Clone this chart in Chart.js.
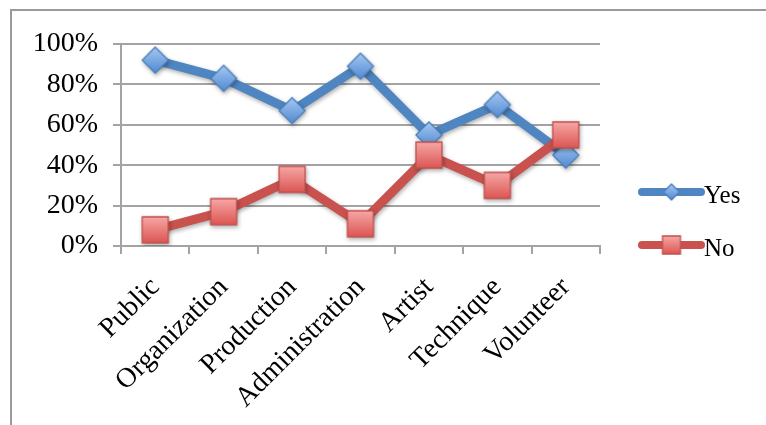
<!DOCTYPE html>
<html>
<head>
<meta charset="utf-8">
<script src="https://cdn.jsdelivr.net/npm/chart.js@4.4.1/dist/chart.umd.min.js"></script>
<style>
  html, body { margin: 0; padding: 0; background: #fff; overflow: hidden; }
  #frame { position: absolute; left: 10px; top: 9px; width: 900px; height: 600px; border: 2px solid #9a9a9a; }
  #c { position: absolute; left: 0; top: 0; }
</style>
</head>
<body>
<div id="frame"></div>
<canvas id="c" width="766" height="425"></canvas>
<script>
// Share of answers per area
const categories = ['Public', 'Organization', 'Production', 'Administration', 'Artist', 'Technique', 'Volunteer'];
const yesValues = [92, 83, 67, 89, 55, 70, 45];
const noValues  = [8, 17, 33, 11, 45, 30, 55];
const percentTicks = [0, 20, 40, 60, 80, 100];

const FONT = '"Liberation Serif", "Times New Roman", serif';
const GRID = '#a3a3a3';

// Marker bitmap: diamond or square with a vertical gradient and thin edge
function marker(shape, r, top, bottom, edge) {
  const s = Math.ceil(r * 2 + 4);
  const cv = document.createElement('canvas');
  cv.width = s; cv.height = s;
  const g = cv.getContext('2d');
  const c = s / 2;
  g.beginPath();
  if (shape === 'diamond') {
    g.moveTo(c, c - r); g.lineTo(c + r, c); g.lineTo(c, c + r); g.lineTo(c - r, c);
  } else {
    g.rect(c - r, c - r, 2 * r, 2 * r);
  }
  g.closePath();
  const grad = g.createLinearGradient(0, c - r, 0, c + r);
  grad.addColorStop(0, top);
  grad.addColorStop(1, bottom);
  g.fillStyle = grad;
  g.fill();
  g.lineWidth = 1.3;
  g.strokeStyle = edge;
  g.stroke();
  return cv;
}

const yesMarker = marker('diamond', 13, '#a5c8f2', '#5189d2', '#4a7ebb');
const noMarker  = marker('square', 13, '#f6a7a5', '#dc5653', '#c0504d');
const legendMarkers = [
  marker('diamond', 8, '#a5c8f2', '#5189d2', '#4a7ebb'),
  marker('square', 9, '#f6a7a5', '#dc5653', '#c0504d')
];

// Soft drop shadow under lines and markers
const softShadow = {
  id: 'softShadow',
  beforeDatasetDraw(chart) {
    const c = chart.ctx;
    c.save();
    c.shadowColor = 'rgba(0,0,0,0.32)';
    c.shadowBlur = 4;
    c.shadowOffsetX = 1;
    c.shadowOffsetY = 2;
  },
  afterDatasetDraw(chart) { chart.ctx.restore(); }
};

// Legend with a line-and-marker swatch per series
const lineLegend = {
  id: 'lineLegend',
  afterDraw(chart) {
    const { ctx, chartArea } = chart;
    const x0 = chartArea.right + 42, x1 = chartArea.right + 101;
    const rows = [chartArea.top + 148, chartArea.bottom - 1];
    chart.data.datasets.forEach((ds, i) => {
      const y = rows[i];
      ctx.save();
      ctx.strokeStyle = ds.borderColor;
      ctx.lineWidth = 8;
      ctx.lineCap = 'round';
      ctx.beginPath(); ctx.moveTo(x0, y); ctx.lineTo(x1, y); ctx.stroke();
      const m = legendMarkers[i];
      ctx.drawImage(m, (x0 + x1) / 2 - m.width / 2, y - m.height / 2);
      ctx.fillStyle = '#000';
      ctx.font = '25px ' + FONT;
      ctx.textBaseline = 'alphabetic';
      ctx.fillText(ds.label, x1 + 3, y + 11);
      ctx.restore();
    });
  }
};

new Chart(document.getElementById('c'), {
  type: 'line',
  data: {
    labels: categories,
    datasets: [
      {
        label: 'Yes',
        data: yesValues,
        order: 1,
        borderColor: '#4f86c2',
        borderWidth: 9,
        borderCapStyle: 'round',
        borderJoinStyle: 'round',
        tension: 0,
        pointStyle: yesMarker,
        pointRadius: 12,
        pointHoverRadius: 12
      },
      {
        label: 'No',
        data: noValues,
        order: 0,
        borderColor: '#c9524f',
        borderWidth: 9,
        borderCapStyle: 'round',
        borderJoinStyle: 'round',
        tension: 0,
        pointStyle: noMarker,
        pointRadius: 12,
        pointHoverRadius: 12
      }
    ]
  },
  options: {
    responsive: false,
    animation: false,
    events: [],
    layout: { padding: { left: 0, top: 44, right: 166, bottom: 0 } },
    plugins: { legend: { display: false }, tooltip: { enabled: false } },
    scales: {
      x: {
        offset: true,
        grid: { offset: true, drawOnChartArea: false, drawTicks: true, tickLength: 8, color: GRID, lineWidth: 2 },
        border: { display: true, color: GRID, width: 2 },
        ticks: {
          color: '#000',
          font: { family: FONT, size: 28 },
          minRotation: 45,
          maxRotation: 45,
          padding: 17,
          autoSkip: false
        },
        afterFit(scale) { scale.height = 179; }
      },
      y: {
        min: 0,
        max: 100,
        afterBuildTicks(scale) { scale.ticks = percentTicks.map(v => ({ value: v })); },
        grid: { color: GRID, lineWidth: 2, drawTicks: true, tickLength: 8 },
        border: { display: true, color: GRID, width: 2 },
        ticks: {
          color: '#000',
          font: { family: FONT, size: 28 },
          padding: 15,
          callback: v => v + '%'
        },
        afterFit(scale) { scale.width = 121; }
      }
    }
  },
  plugins: [softShadow, lineLegend]
});
</script>
</body>
</html>
